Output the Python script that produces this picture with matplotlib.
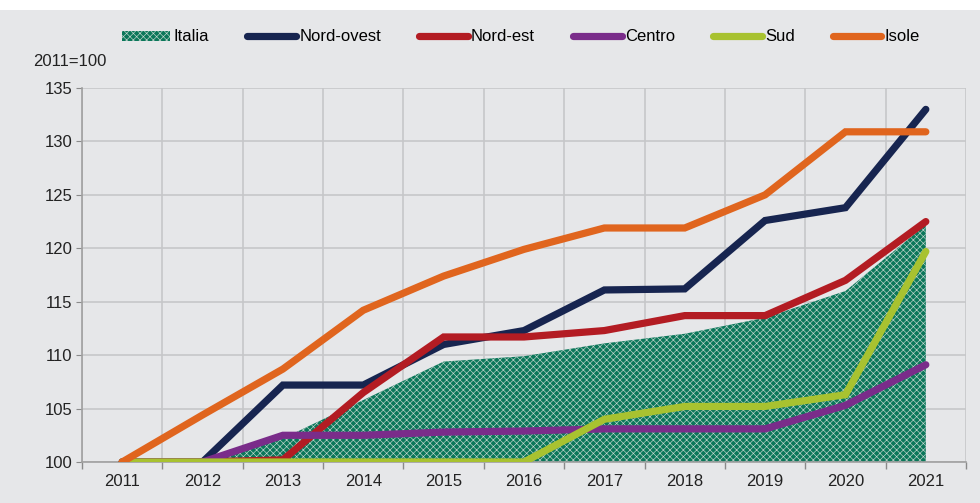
import numpy as np
import matplotlib.pyplot as plt
from matplotlib.patches import Patch
from matplotlib.lines import Line2D

plt.rcParams['font.family'] = ['Liberation Sans', 'DejaVu Sans']
plt.rcParams['hatch.linewidth'] = 0.45

years = ['2011', '2012', '2013', '2014', '2015', '2016', '2017', '2018', '2019', '2020', '2021']
italia = [100, 100, 102.2, 105.8, 109.4, 109.9, 111.1, 112.0, 113.5, 116.0, 122.2]
nord_ovest = [100, 100, 107.2, 107.2, 111.0, 112.3, 116.1, 116.2, 122.6, 123.8, 133.0]
nord_est = [100, 100, 100.2, 106.5, 111.7, 111.7, 112.3, 113.7, 113.7, 117.0, 122.5]
centro = [100, 100, 102.5, 102.5, 102.8, 102.9, 103.1, 103.1, 103.1, 105.3, 109.1]
sud = [100, 100, 100, 100, 100, 100, 104.0, 105.2, 105.2, 106.3, 119.7]
isole = [100, 104.4, 108.7, 114.2, 117.4, 119.9, 121.9, 121.9, 125.0, 130.9, 130.9]

bg = '#e6e7e9'
grid_col = '#c6c7c9'
fill_col = '#0b775a'
hatch_col = '#c4d6ce'
series = [
    ('Nord-ovest', nord_ovest, '#172550'),
    ('Nord-est', nord_est, '#b31c23'),
    ('Centro', centro, '#7a2c8a'),
    ('Sud', sud, '#a8c230'),
    ('Isole', isole, '#e0651e'),
]

fig = plt.figure(figsize=(9.8, 5.03), dpi=100)
fig.patch.set_facecolor('white')
# grey panel behind everything, leaving a thin white band on top
fig.add_artist(plt.Rectangle((0, 0), 1, 1 - 10 / 503, transform=fig.transFigure,
                             facecolor=bg, edgecolor='none', zorder=0))

ax = fig.add_axes([82 / 980, 1 - 462 / 503, (966 - 82) / 980, (462 - 88) / 503])
ax.set_facecolor(bg)
x = np.arange(len(years))

ax.fill_between(x, 100, italia, facecolor=fill_col, edgecolor=hatch_col,
                hatch='xxxxx', linewidth=0, zorder=2)
for name, vals, col in series:
    ax.plot(x, vals, color=col, lw=5.2, solid_capstyle='round', solid_joinstyle='miter', zorder=3)

ax.set_xlim(-0.5, len(years) - 0.5)
ax.set_ylim(100, 135)
ax.set_yticks(np.arange(100, 136, 5))
ax.set_xticks(x)
ax.set_xticklabels(years)
ax.set_xticks(np.arange(-0.5, len(years)), minor=True)
ax.tick_params(axis='x', which='major', length=0, pad=9, labelsize=12, labelcolor='#222222')
ax.tick_params(axis='x', which='minor', length=5, color='#8a8a8a', width=1)
ax.tick_params(axis='y', length=4, color='#8a8a8a', labelsize=12, labelcolor='#222222', pad=3)

ax.grid(True, axis='y', color=grid_col, lw=1.2, zorder=0)
ax.grid(True, axis='x', which='minor', color=grid_col, lw=1.2, zorder=0)
ax.set_axisbelow(True)
for s in ['top', 'right']:
    ax.spines[s].set_visible(False)
for s in ['left', 'bottom']:
    ax.spines[s].set_color('#a0a0a0')
    ax.spines[s].set_linewidth(1.2)

fig.text(33 / 980, 1 - 62 / 503, '2011=100', fontsize=12, color='#222222', va='center')

handles = [Patch(facecolor=fill_col, edgecolor=hatch_col, hatch='xxxxx', linewidth=0)]
labels = ['Italia']
for name, vals, col in series:
    handles.append(Line2D([0], [0], color=col, lw=5.2, solid_capstyle='round'))
    labels.append(name)
fig.legend(handles, labels, loc='center', bbox_to_anchor=(521 / 980, 1 - 37 / 503), ncol=6,
           frameon=False, fontsize=12, handlelength=2.9, handletextpad=0.2,
           columnspacing=2.3, handleheight=0.55, borderpad=0)

fig.savefig('out.png', dpi=100, facecolor=fig.get_facecolor())
